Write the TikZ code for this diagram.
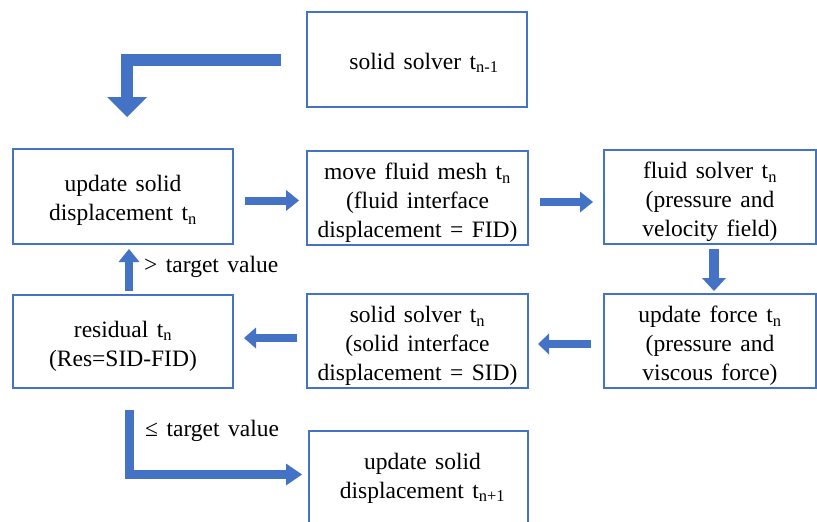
\documentclass[tikz,border=0pt]{standalone}
\usepackage{fontspec}
\setmainfont{Liberation Serif}
\usetikzlibrary{calc}
\definecolor{office}{RGB}{68,114,196}
\newcommand\fsz{\fontsize{23.5}{29}\selectfont\spaceskip=0.36em plus 0.1em minus 0.05em\relax}
\newcommand\dn[1]{\rule{0pt}{#1}}
\newcommand\headtri[4]{%
  \coordinate (hb) at ($(#1)!#4!(#2)$);
  \fill[office] ($(hb)!#3!90:(#1)$) -- (#1) -- ($(hb)!#3!-90:(#1)$) -- cycle;}
\newcommand\blockarrow[5]{%
  \draw[shaft, line width=#3] (#1) -- ($(#2)!0.85*#5!(#1)$);
  \headtri{#2}{#1}{#4}{#5}}
\begin{document}
\begin{tikzpicture}[x=1pt,y=-1pt,
  box/.style={draw=office, line width=2pt, rectangle, inner sep=0pt, align=center, font=\fsz},
  shaft/.style={draw=office, line cap=butt, line join=miter},
  lbl/.style={font=\fsz, anchor=west, inner sep=0pt}]
\useasboundingbox[fill=white] (0,0) rectangle (817,522);
% boxes
\node[box, minimum width=220pt, minimum height=95pt] (top) at (417,59.5) {\dn{23pt}\hspace*{14pt}solid solver t\textsubscript{n-1}};
\node[box, minimum width=220pt, minimum height=95pt] (u1) at (123,196.5) {\dn{24pt}update solid\\displacement t\textsubscript{n}};
\node[box, minimum width=221pt, minimum height=94pt] (m1) at (417.5,198) {\dn{26pt}move fluid mesh t\textsubscript{n}\\(fluid interface\\displacement = FID)};
\node[box, minimum width=212pt, minimum height=94pt] (f1) at (710,197) {\dn{26pt}fluid solver t\textsubscript{n}\\(pressure and\\velocity field)};
\node[box, minimum width=212pt, minimum height=94pt] (uf) at (710,341) {\dn{26pt}update force t\textsubscript{n}\\(pressure and\\viscous force)};
\node[box, minimum width=221pt, minimum height=94pt] (ss) at (417.5,341) {\dn{26pt}solid solver t\textsubscript{n}\\(solid interface\\displacement = SID)};
\node[box, minimum width=220pt, minimum height=93pt] (res) at (123,341.5) {\dn{25pt}residual t\textsubscript{n}\\(Res=SID-FID)};
\node[box, minimum width=219pt, minimum height=94pt] (bot) at (418.5,478) {\hspace*{8pt}update solid\\\hspace*{8pt}displacement t\textsubscript{n+1}};
% labels
\node[lbl] (gt) at (144,267) {> target value};
\node[lbl] (le) at (145,431) {≤ target value};
% straight arrows
\coordinate (a1s) at ([xshift=11pt,yshift=-4pt]u1.east);
\coordinate (a1t) at ($(a1s -| m1.west)+(-7,0)$);
\blockarrow{a1s}{a1t}{8pt}{10.5pt}{13pt}
\coordinate (a2s) at ([xshift=11pt,yshift=-4pt]m1.east);
\coordinate (a2t) at ($(a2s -| f1.west)+(-10,0)$);
\blockarrow{a2s}{a2t}{8pt}{10.5pt}{13pt}
\coordinate (a3s) at ([xshift=4pt,yshift=-4pt]f1.south);
\coordinate (a3t) at ($(a3s |- uf.north)+(0,-2)$);
\blockarrow{a3s}{a3t}{10pt}{12pt}{13pt}
\coordinate (a4s) at ([xshift=-12pt,yshift=-3pt]uf.west);
\coordinate (a4t) at ($(a4s -| ss.east)+(9,0)$);
\blockarrow{a4s}{a4t}{8pt}{10.5pt}{11pt}
\coordinate (a5s) at ([xshift=-9pt,yshift=3pt]ss.west);
\coordinate (a5t) at ($(a5s -| res.east)+(10,0)$);
\blockarrow{a5s}{a5t}{8pt}{10.5pt}{12pt}
\coordinate (a6s) at ([xshift=6pt,yshift=3pt]res.north);
\coordinate (a6t) at ($(a6s |- u1.south)+(0,4)$);
\blockarrow{a6s}{a6t}{8pt}{10.5pt}{13pt}
% elbow arrow top
\coordinate (e1s) at ([xshift=-25pt]top.west);
\coordinate (e1t) at ([xshift=4pt,yshift=31pt]u1.north);
\coordinate (e1c) at (e1s -| e1t);
\draw[shaft, line width=12pt] (e1s) -- (e1c) -- ($(e1t)!0.85*20pt!(e1c)$);
\headtri{e1t}{e1c}{20pt}{20pt}
% elbow arrow bottom
\coordinate (e2s) at ([xshift=6.5pt,yshift=-21pt]res.south);
\coordinate (e2t) at ([xshift=-6pt,yshift=3.5pt]bot.west);
\coordinate (e2c) at (e2s |- e2t);
\draw[shaft, line width=9pt] (e2s) -- (e2c) -- ($(e2t)!0.85*16pt!(e2c)$);
\headtri{e2t}{e2c}{11pt}{16pt}
\end{tikzpicture}
\end{document}
